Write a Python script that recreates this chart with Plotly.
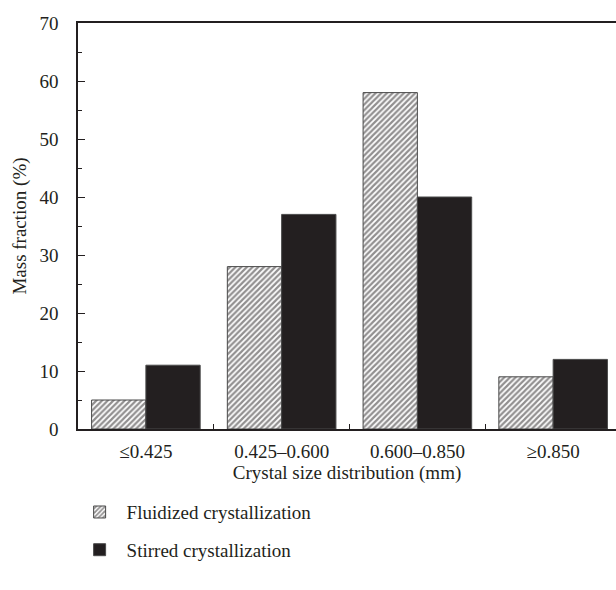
import plotly.graph_objects as go

categories = ["≤0.425", "0.425–0.600", "0.600–0.850", "≥0.850"]
fluidized = [5, 28, 58, 9]
stirred = [11, 37, 40, 12]

FONT = "Liberation Serif"
DARK = "#231f20"
FS = 19

fig = go.Figure()
fig.add_trace(go.Bar(
    x=categories, y=fluidized, name="Fluidized crystallization",
    legendgroup="a",
    marker=dict(color="white", line=dict(color="#4a4a4a", width=1),
                pattern=dict(shape="/", fgcolor=DARK, bgcolor="white", size=4, solidity=0.55)),
))
fig.add_trace(go.Bar(
    x=categories, y=stirred, name="Stirred crystallization",
    legendgroup="b",
    marker=dict(color=DARK, line=dict(color="#4a4a4a", width=1)),
))

fig.update_layout(
    width=616, height=590,
    margin=dict(l=78, r=0, t=23, b=161),
    plot_bgcolor="white", paper_bgcolor="white",
    barmode="group", bargap=0.2, bargroupgap=0,
    font=dict(family=FONT, size=FS, color=DARK),
    showlegend=True,
    legend=dict(x=-0.01, xanchor="left", y=-0.158, yanchor="top",
                traceorder="grouped", tracegroupgap=10, itemwidth=44,
                font=dict(family=FONT, size=FS, color=DARK),
                bgcolor="rgba(0,0,0,0)"),
)
fig.update_xaxes(
    range=[-0.5, 3.463], showline=True, linecolor=DARK, linewidth=1.5, mirror=True,
    ticks="inside", tickson="boundaries", ticklen=5, tickcolor=DARK,
    showgrid=False, zeroline=False, ticklabelstandoff=4,
    tickfont=dict(family=FONT, size=FS, color=DARK),
    title=dict(text="Crystal size distribution (mm)", standoff=3,
               font=dict(family=FONT, size=FS, color=DARK)),
)
fig.update_yaxes(
    range=[0, 70], dtick=10, showline=True, linecolor=DARK, linewidth=1.5,
    ticks="inside", ticklen=7, tickcolor=DARK,
    minor=dict(dtick=5, ticks="inside", ticklen=4, tickcolor=DARK),
    showgrid=False, zeroline=False, ticklabelstandoff=14,
    tickfont=dict(family=FONT, size=FS, color=DARK),
    title=dict(text="Mass fraction (%)", standoff=8,
               font=dict(family=FONT, size=FS, color=DARK)),
)

fig.write_html("out.html")
